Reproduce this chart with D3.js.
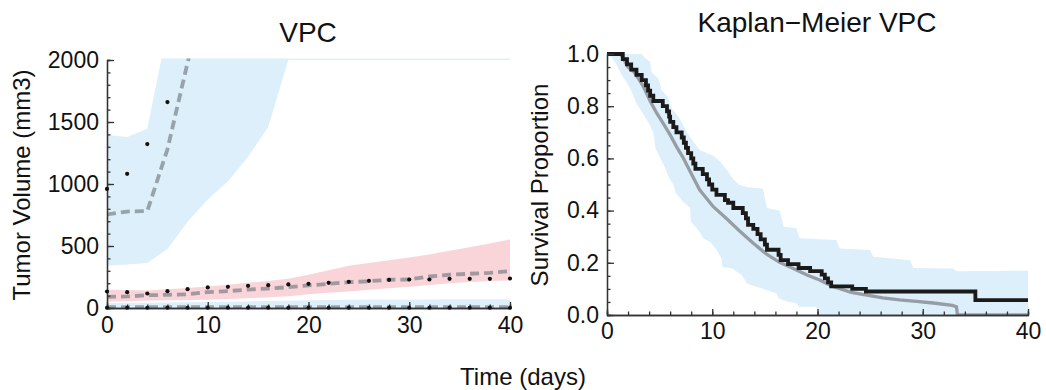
<!DOCTYPE html>
<html>
<head>
<meta charset="utf-8">
<script src="https://cdn.jsdelivr.net/npm/d3@7"></script>
<style>
  body { margin: 0; background: #fff; }
  text { font-family: "Liberation Sans", Arial, sans-serif; fill: #111; }
</style>
</head>
<body>
<script>
// ---- left panel data (tumor volume VPC), one value every 2 days ----
const days = [0,2,4,6,8,10,12,14,16,18,20,22,24,26,28,30,32,34,36,38,40];

// high group (goes off the top of the plot)
const highLo  = [341,350,362,476,696,876,1020,1220,1460,2000,2000,2000,2000,2000,2000,2000,2000,2000,2000,2000,2000];
const highHi  = [1395,1380,1445,2250,2700,3000,3300,3600,3900,4200,4500,4800,5100,5400,5700,6000,6300,6600,6900,7200,7500];
const highMedDays = [0,2,4,6,8,10];
const highMed = [755,778,782,1280,1980,2600];
const highObsDays = [0,2,4,6];
const highObs = [960,1082,1322,1661];

// middle group
const midLo  = [53,55,61,63,65,67,72,78,86,95,110,122,134,147,160,172,185,200,210,217,222];
const midHi  = [147,145,141,152,162,174,188,203,218,236,268,305,340,362,385,408,432,462,490,520,553];
const midMed = [90,93,103,106,111,128,136,149,157,168,182,195,208,216,228,230,254,268,276,284,297];
const midObs = [133,128,117,136,152,166,171,179,184,190,195,203,211,219,227,230,230,235,235,235,238];

// low group (near zero)
const lowLo  = [0,0,0,0,0,0,0,0,0,0,0,0,0,0,0,0,0,0,0,0,0];
const lowHi  = [40,41,42,44,46,48,50,53,56,59,62,65,67,68,69,69,69,70,70,70,70];
const lowMed = [6,6,6,6,6,6,6,6,6,6,6,6,6,6,6,6,6,6,6,6,6];
const lowObs = [2,2,2,2,2,2,2,2,2,2,2,2,2,2,2,2,2,2,2,2,2];

// ---- right panel data (Kaplan-Meier VPC) ----
const kmObsT = [0,1.5,1.9,2.3,2.8,3.3,3.7,3.9,4.1,4.4,5.3,5.7,5.9,6.0,6.3,6.6,7.1,7.3,7.5,7.7,8.0,8.2,8.4,9.1,9.5,9.7,10.0,10.4,11.2,11.5,12.0,12.9,13.2,13.4,13.9,14.3,14.6,15.0,15.2,16.3,16.5,17.2,18.2,19.3,20.4,20.7,21.0,21.3,23.3,24.6,35.0,40];
const kmObsS = [1,0.98,0.96,0.94,0.92,0.90,0.88,0.86,0.84,0.82,0.80,0.78,0.76,0.74,0.72,0.70,0.68,0.66,0.64,0.62,0.60,0.58,0.56,0.54,0.52,0.50,0.48,0.46,0.44,0.43,0.41,0.39,0.37,0.345,0.33,0.31,0.29,0.27,0.25,0.23,0.21,0.195,0.18,0.168,0.155,0.14,0.125,0.11,0.10,0.09,0.057,0.057];

const kmMedT = [0,1.3,2.0,2.6,3.4,4.1,4.7,5.4,6.0,6.6,7.2,7.9,8.8,10.1,11.4,12.6,13.9,15.2,16.4,17.7,19.0,20.2,21.4,23.2,24.7,26.2,27.8,29.4,31.0,32.8,33.2,33.3,40];
const kmMedS = [1,1,0.95,0.93,0.88,0.82,0.775,0.73,0.69,0.645,0.605,0.55,0.48,0.415,0.368,0.322,0.275,0.232,0.202,0.178,0.153,0.134,0.11,0.087,0.076,0.066,0.058,0.052,0.046,0.037,0.032,0,0];

const kmHiT = [0,3.3,3.6,4.1,4.25,4.9,5.2,5.8,6.15,6.8,7.2,7.6,8.2,8.8,9.5,10.1,10.7,11.4,12.0,12.5,13.3,14.8,15.2,16.4,16.8,18.0,18.3,21.8,22.1,25.0,25.3,28.8,29.1,32.9,33.2,40];
const kmHiS = [1,1,0.985,0.97,0.93,0.905,0.86,0.835,0.79,0.76,0.73,0.70,0.665,0.632,0.62,0.61,0.59,0.555,0.52,0.50,0.49,0.485,0.41,0.40,0.338,0.332,0.294,0.287,0.255,0.249,0.223,0.21,0.18,0.178,0.168,0.17];

const kmLoT = [0,0.5,0.9,1.4,1.9,2.35,2.8,3.3,3.9,4.4,4.6,5.0,5.5,5.85,6.3,6.5,7.1,7.9,7.95,8.4,8.85,9.15,9.8,10.4,10.9,10.95,11.9,12.8,13.3,14.2,15.2,16.1,16.3,17.2,18.0,18.2,19.9,20.0,40];
const kmLoS = [1,0.985,0.96,0.92,0.89,0.855,0.81,0.78,0.74,0.70,0.64,0.607,0.565,0.53,0.50,0.47,0.44,0.41,0.36,0.338,0.315,0.294,0.28,0.25,0.215,0.185,0.178,0.153,0.121,0.108,0.095,0.083,0.064,0.051,0.045,0.032,0.032,0,0];

const blueFill = "#ddeffa";
const redFill = "#f9d4d8";
const dashCol = "#7d848a";

const svg = d3.select("body").append("svg")
  .attr("width", 1046)
  .attr("height", 390);

// ================= LEFT PANEL =================
const xL = d3.scaleLinear().domain([0, 40]).range([107, 510]);
const yL = d3.scaleLinear().domain([0, 2000]).range([308, 60]);

svg.append("clipPath").attr("id", "clipL")
  .append("rect")
  .attr("x", xL(0)).attr("y", yL(2000) - 1.5)
  .attr("width", xL(40) - xL(0)).attr("height", yL(0) - yL(2000) + 1.5);

const gL = svg.append("g");
const plotL = gL.append("g").attr("clip-path", "url(#clipL)");

const band = (lo, hi) => d3.area()
  .x((d, i) => xL(days[i]))
  .y0((d, i) => yL(lo[i]))
  .y1((d, i) => yL(hi[i]));

plotL.append("path").attr("d", band(highLo, highHi)(days)).attr("fill", blueFill);
plotL.append("path").attr("d", band(midLo, midHi)(days)).attr("fill", redFill);
plotL.append("path").attr("d", band(lowLo, lowHi)(days)).attr("fill", blueFill);

// axes
const axisStyle = g => {
  g.select(".domain").attr("stroke", "#333").attr("stroke-width", 1.3);
  g.selectAll(".tick line").attr("stroke", "#333").attr("stroke-width", 1.3);
  g.selectAll(".tick text").style("font-size", "23px").attr("fill", "#111");
};

gL.append("g").attr("transform", `translate(${xL(0)},0)`)
  .call(d3.axisLeft(yL).tickValues(d3.range(0, 2001, 100)).tickSize(-3.5).tickFormat(""))
  .call(axisStyle);
gL.append("g").attr("transform", `translate(${xL(0)},0)`)
  .call(d3.axisLeft(yL).tickValues([0, 500, 1000, 1500, 2000]).tickSizeInner(-7).tickSizeOuter(0).tickPadding(8).tickFormat(d3.format("d")))
  .call(axisStyle);
gL.append("g").attr("transform", `translate(0,${yL(0)})`)
  .call(d3.axisBottom(xL).tickValues(d3.range(0, 41, 2)).tickSize(-3.5).tickFormat(""))
  .call(axisStyle);
gL.append("g").attr("transform", `translate(0,${yL(0)})`)
  .call(d3.axisBottom(xL).tickValues([0, 10, 20, 30, 40]).tickSizeInner(-6).tickSizeOuter(0).tickPadding(9))
  .call(axisStyle);

// medians (dashed)
const medLine = (dd) => d3.line().x((d, i) => xL(dd[i])).y(d => yL(d));
[[highMed, highMedDays], [midMed, days], [lowMed, days]].forEach(([vals, dd]) => {
  plotL.append("path")
    .attr("d", medLine(dd)(vals))
    .attr("fill", "none")
    .attr("stroke", dashCol)
    .attr("stroke-opacity", 0.72)
    .attr("stroke-width", 3.8)
    .attr("stroke-dasharray", "9,5");
});

// observed points
const dots = (vals, dd) => gL.append("g").selectAll("circle")
  .data(vals).join("circle")
  .attr("cx", (d, i) => xL(dd[i]))
  .attr("cy", d => yL(d))
  .attr("r", 2.1)
  .attr("fill", "#111");
dots(highObs, highObsDays);
dots(midObs, days);
dots(lowObs, days);

svg.append("text").attr("x", 308).attr("y", 42).attr("text-anchor", "middle")
  .style("font-size", "28px").text("VPC");
svg.append("text").attr("transform", "translate(30,185) rotate(-90)")
  .attr("text-anchor", "middle").style("font-size", "24px").text("Tumor Volume (mm3)");

// ================= RIGHT PANEL =================
const xR = d3.scaleLinear().domain([0, 40]).range([607, 1028]);
const yR = d3.scaleLinear().domain([0, 1]).range([315, 54]);

svg.append("clipPath").attr("id", "clipR")
  .append("rect")
  .attr("x", xR(0)).attr("y", yR(1) - 3)
  .attr("width", xR(40) - xR(0)).attr("height", yR(0) - yR(1) + 3);

const gR = svg.append("g");
const plotR = gR.append("g").attr("clip-path", "url(#clipR)");

// prediction interval band: interpolate both edges on a shared time grid
const hiF = d3.scaleLinear().domain(kmHiT).range(kmHiS);
const loF = d3.scaleLinear().domain(kmLoT).range(kmLoS);
const gridT = Array.from(new Set(kmHiT.concat(kmLoT))).sort((a, b) => a - b);
plotR.append("path")
  .attr("d", d3.area().x(t => xR(t)).y0(t => yR(loF(t))).y1(t => yR(hiF(t)))(gridT))
  .attr("fill", blueFill);

gR.append("g").attr("transform", `translate(${xR(0)},0)`)
  .call(d3.axisLeft(yR).tickValues(d3.range(0, 1.001, 0.05)).tickSize(-3.5).tickFormat(""))
  .call(axisStyle);
gR.append("g").attr("transform", `translate(${xR(0)},0)`)
  .call(d3.axisLeft(yR).tickValues([0, 0.2, 0.4, 0.6, 0.8, 1.0]).tickSizeInner(-7).tickSizeOuter(0).tickPadding(8).tickFormat(d3.format(".1f")))
  .call(axisStyle);
gR.append("g").attr("transform", `translate(0,${yR(0)})`)
  .call(d3.axisBottom(xR).tickValues(d3.range(0, 41, 2)).tickSize(-3.5).tickFormat(""))
  .call(axisStyle);
gR.append("g").attr("transform", `translate(0,${yR(0)})`)
  .call(d3.axisBottom(xR).tickValues([0, 10, 20, 30, 40]).tickSizeInner(-6).tickSizeOuter(0).tickPadding(8))
  .call(axisStyle);

plotR.append("path")
  .attr("d", d3.line().x((d, i) => xR(kmMedT[i])).y(d => yR(d))(kmMedS))
  .attr("fill", "none")
  .attr("stroke", "#969da4")
  .attr("stroke-width", 3.3);

plotR.append("path")
  .attr("d", d3.line().curve(d3.curveStepAfter).x((d, i) => xR(kmObsT[i])).y(d => yR(d))(kmObsS))
  .attr("fill", "none")
  .attr("stroke", "#1a1a1a")
  .attr("stroke-width", 3.8);

svg.append("text").attr("x", 817).attr("y", 32).attr("text-anchor", "middle")
  .style("font-size", "28px").text("Kaplan\u2212Meier VPC");
svg.append("text").attr("transform", "translate(548,185) rotate(-90)")
  .attr("text-anchor", "middle").style("font-size", "24px").text("Survival Proportion");

svg.append("text").attr("x", 523).attr("y", 385).attr("text-anchor", "middle")
  .style("font-size", "24px").text("Time (days)");
</script>
</body>
</html>
